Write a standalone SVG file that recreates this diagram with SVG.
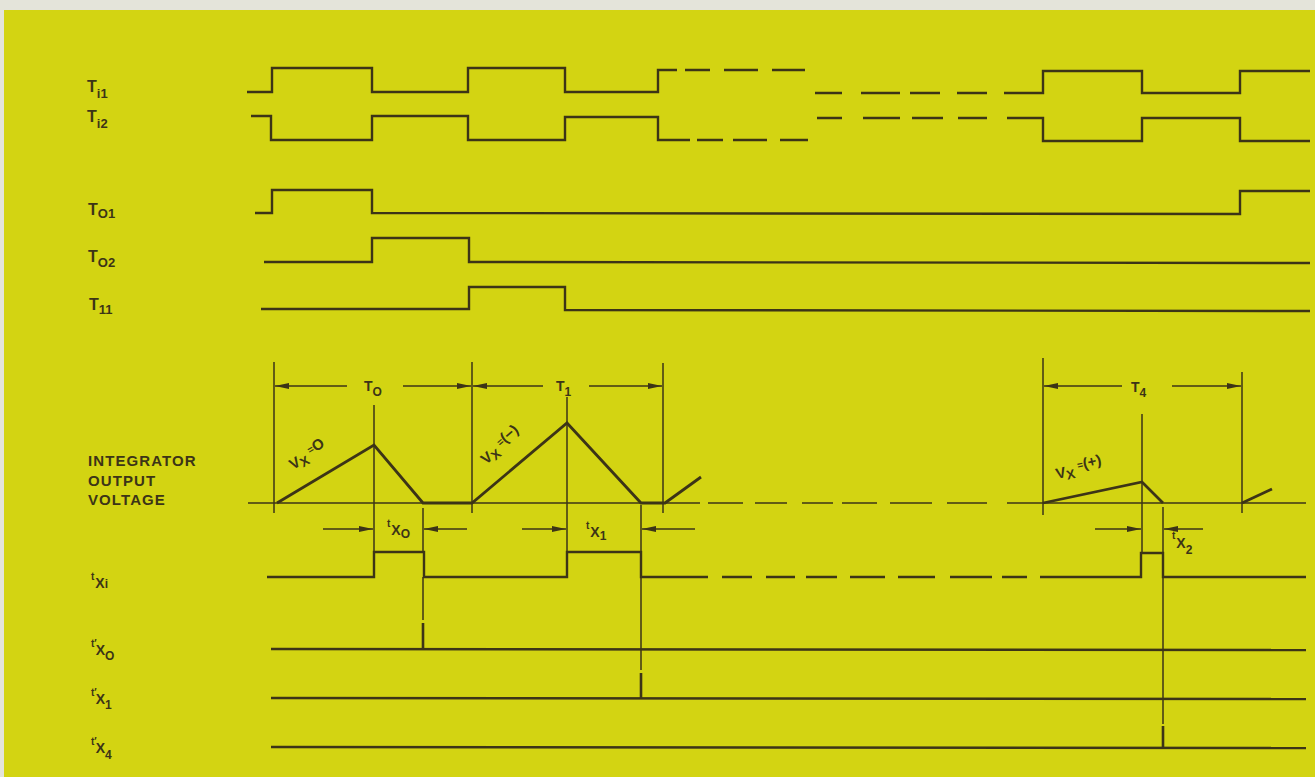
<svg xmlns="http://www.w3.org/2000/svg" width="1315" height="777" viewBox="0 0 1315 777">
<style>
.bg{fill:#e4e4da}
.paper{fill:#d3d412}
.w{fill:none;stroke:#3c3417;stroke-width:2.4;stroke-linejoin:miter;stroke-linecap:butt}
.r{fill:none;stroke:#3c3417;stroke-width:2.8;stroke-linejoin:miter}
.t{fill:none;stroke:#3c3417;stroke-width:1.5}
.tk{fill:none;stroke:#3c3417;stroke-width:2.6}
.dim{fill:none;stroke:#3c3417;stroke-width:1.6}
text{font-family:"Liberation Sans",Arial,sans-serif;fill:#3c3417;font-weight:bold}
.lab{font-size:16px}
.sub{font-size:12px}
.sub2{font-size:13px}
.big{font-size:15px;letter-spacing:1.1px}
.sm{font-size:14px}
.md{font-size:15px}
.xs{font-size:10px}
.eq{font-size:10px}
</style>
<defs>
<marker id="ah" viewBox="0 0 14 6" refX="14" refY="3" markerWidth="14" markerHeight="6" markerUnits="userSpaceOnUse" orient="auto">
<path d="M0,0 L14,3 L0,6 z" fill="#3c3417"/>
</marker>
</defs>
<rect class="bg" x="0" y="0" width="1315" height="777"/>
<rect class="paper" x="4" y="10" width="1311" height="767"/>

<g id="Ti1">
<text class="lab" x="87" y="92">T<tspan class="sub2" dy="6">i1</tspan></text>
<path class="w" d="M247,92 L272,92 L272,68 L372,68 L372,92 L468,92 L468,68 L565,68 L565,92 L658,92 L658,70 L677,70"/>
<path class="w" d="M685,70 L710,70 M724,70 L758,70 M772,70 L805,70 M815,93 L842,93 M861,93 L900,93 M910,93 L940,93 M957,93 L987,93"/>
<path class="w" d="M1004,93 L1043,93 L1043,71 L1142,71 L1142,93 L1240,93 L1240,71 L1310,71"/>
</g>

<g id="Ti2">
<text class="lab" x="87" y="122">T<tspan class="sub2" dy="6">i2</tspan></text>
<path class="w" d="M251,116 L271,116 L271,140 L372,140 L372,116 L468,116 L468,140 L565,140 L565,117 L658,117 L658,140 L690,140"/>
<path class="w" d="M697,140 L723,140 M733,140 L767,140 M780,140 L808,140 M817,118 L842,118 M863,118 L900,118 M912,118 L943,118 M958,118 L987,118"/>
<path class="w" d="M1007,118 L1043,118 L1043,141 L1142,141 L1142,118 L1240,118 L1240,141 L1310,141"/>
</g>

<g id="To1">
<text class="lab" x="88" y="215">T<tspan class="sub2" dy="3">O1</tspan></text>
<path class="w" d="M255,213 L272,213 L272,190 L372,190 L372,213 L1240,214 L1240,191 L1310,191"/>
</g>

<g id="To2">
<text class="lab" x="88" y="262">T<tspan class="sub2" dy="5">O2</tspan></text>
<path class="w" d="M264,262 L372,262 L372,238 L469,238 L469,262 L1310,263"/>
</g>

<g id="T11">
<text class="lab" x="89" y="310">T<tspan class="sub2" dy="4">11</tspan></text>
<path class="w" d="M261,309 L469,309 L469,287 L565,287 L565,310 L1310,311"/>
</g>

<g id="integrator">
<text class="big" x="88" y="466">INTEGRATOR</text>
<text class="big" x="88" y="486">OUTPUT</text>
<text class="big" x="88" y="505">VOLTAGE</text>
<path class="t" d="M248,503 L700,503"/>
<path class="t" d="M708,503 L743,503 M755,503 L787,503 M802,503 L833,503 M842,503 L877,503 M890,503 L932,503 M947,503 L987,503"/>
<path class="t" d="M1007,503 L1306,503"/>
<path class="r" d="M277,503 L374,445 L423,503 L472,503 L567,423 L641,503 L665,503 L701,477"/>
<path class="r" d="M1043,503 L1142,482 L1163,503"/>
<path class="r" d="M1242,503 L1272,489"/>
<text class="md" transform="translate(293,470) rotate(-31)">V<tspan class="sub2" dy="3">X</tspan><tspan class="eq" dx="4" dy="-8">=</tspan><tspan class="md" dy="1">O</tspan></text>
<text class="md" transform="translate(486,465) rotate(-40)">V<tspan class="sub2" dy="3">X</tspan><tspan class="eq" dx="4" dy="-8">=</tspan><tspan class="md" dy="1">(−)</tspan></text>
<text class="md" transform="translate(1057,479) rotate(-13)">V<tspan class="sub2" dy="3">X</tspan><tspan class="eq" dx="4" dy="-8">=</tspan><tspan class="md" dy="1">(+)</tspan></text>
</g>

<g id="txi">
<text class="xs" x="91" y="580">t<tspan class="sm" dx="1" dy="8">X</tspan><tspan class="sub" dy="0">i</tspan></text>
<path class="w" d="M267,577 L374,577 L374,552 L424,552 L424,577 L567,577 L567,552 L641,552 L641,577 L708,577"/>
<path class="w" d="M722,577 L752,577 M766,577 L795,577 M806,577 L837,577 M850,577 L885,577 M898,577 L935,577 M950,577 L992,577 M1002,577 L1027,577"/>
<path class="w" d="M1040,577 L1141,577 L1141,553 L1163,553 L1163,577 L1306,577"/>
</g>

<g id="tpx0">
<text class="xs" x="91" y="647">t′<tspan class="sm" dx="-1" dy="8">X</tspan><tspan class="sub" dy="5">O</tspan></text>
<path class="w" d="M271,649 L1306,650"/>
<path class="tk" d="M423,623 L423,649"/>
</g>

<g id="tpx1">
<text class="xs" x="91" y="696">t′<tspan class="sm" dx="-1" dy="8">X</tspan><tspan class="sub" dy="5">1</tspan></text>
<path class="w" d="M271,698 L1306,699"/>
<path class="tk" d="M641,673 L641,698"/>
</g>

<g id="tpx4">
<text class="xs" x="91" y="745">t′<tspan class="sm" dx="-1" dy="8">X</tspan><tspan class="sub" dy="6">4</tspan></text>
<path class="w" d="M271,747 L1306,748"/>
<path class="tk" d="M1163,726 L1163,747"/>
</g>

<g id="connectors">
<path class="t" d="M274,362 L274,513 M472,362 L472,513 M663,363 L663,513 M1043,358 L1043,515 M1242,372 L1242,513"/>
<path class="t" d="M374,405 L374,552 M567,397 L567,552 M1142,414 L1142,553"/>
<path class="t" d="M423,508 L423,552 M423,577 L423,620 M641,505 L641,552 M641,577 L641,670 M1163,507 L1163,553 M1163,577 L1163,724"/>
<line class="dim" x1="347" y1="386" x2="275" y2="386" marker-end="url(#ah)"/>
<line class="dim" x1="403" y1="386" x2="471" y2="386" marker-end="url(#ah)"/>
<line class="dim" x1="543" y1="386" x2="473" y2="386" marker-end="url(#ah)"/>
<line class="dim" x1="589" y1="386" x2="662" y2="386" marker-end="url(#ah)"/>
<line class="dim" x1="1122" y1="386" x2="1044" y2="386" marker-end="url(#ah)"/>
<line class="dim" x1="1172" y1="386" x2="1241" y2="386" marker-end="url(#ah)"/>
<line class="dim" x1="323" y1="529" x2="373" y2="529" marker-end="url(#ah)"/>
<line class="dim" x1="467" y1="529" x2="424" y2="529" marker-end="url(#ah)"/>
<line class="dim" x1="522" y1="529" x2="566" y2="529" marker-end="url(#ah)"/>
<line class="dim" x1="695" y1="529" x2="642" y2="529" marker-end="url(#ah)"/>
<line class="dim" x1="1095" y1="529" x2="1141" y2="529" marker-end="url(#ah)"/>
<line class="dim" x1="1203" y1="529" x2="1164" y2="529" marker-end="url(#ah)"/>
<text class="sm" x="364" y="391">T<tspan class="sub" dy="5">O</tspan></text>
<text class="sm" x="556" y="391">T<tspan class="sub" dy="5">1</tspan></text>
<text class="sm" x="1131" y="392">T<tspan class="sub" dy="5">4</tspan></text>
<text class="xs" x="387" y="527">t<tspan class="sm" dx="1" dy="8">X</tspan><tspan class="sub" dy="3">O</tspan></text>
<text class="xs" x="586" y="529">t<tspan class="sm" dx="1" dy="8">X</tspan><tspan class="sub" dy="3">1</tspan></text>
<text class="xs" x="1172" y="539">t<tspan class="sm" dx="1" dy="9">X</tspan><tspan class="sub" dy="6">2</tspan></text>
</g>
</svg>
